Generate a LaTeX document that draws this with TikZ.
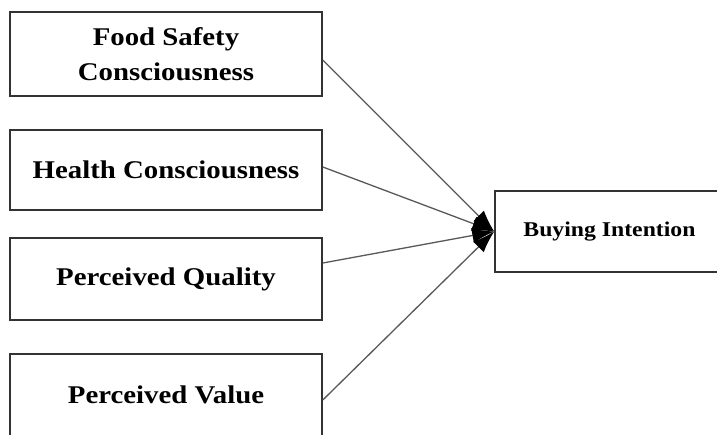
\documentclass[tikz,border=0pt]{standalone}
\usepackage{fontspec}
\newfontfamily\boxfont{Liberation Serif}[FakeStretch=1.13]
\usetikzlibrary{arrows.meta}
\begin{document}
\begin{tikzpicture}[x=1pt,y=-1pt,
  factor/.style={draw=black!80,line width=1.6pt,fill=white,rectangle,
    minimum width=312pt,inner sep=0pt,align=center,
    font=\boxfont\bfseries\fontsize{25.5}{35}\selectfont},
  target/.style={draw=black!80,line width=1.6pt,fill=white,rectangle,
    minimum width=229pt,minimum height=81pt,inner sep=0pt,
    font=\boxfont\bfseries\fontsize{21}{24}\selectfont},
  conn/.style={draw=black!65,line width=1.3pt,
    -{Latex[length=22pt,width=15pt,black]}}]
\fill[white] (0,0) rectangle (717,434);
\useasboundingbox (0,0) rectangle (717,434);
\clip (0,0) rectangle (717,434);

% predictors
\node[factor,minimum height=84pt] (fs) at (166,54) {Food Safety\\Consciousness};
\node[factor,minimum height=80pt] (hc) at (166,170) {Health Consciousness};
\node[factor,minimum height=82pt] (pq) at (166,279) {Perceived Quality};
\node[factor,minimum height=82pt] (pv) at (166,395) {Perceived Value};

% outcome
\node[target] (bi) at (609.5,231.5) {Buying Intention};

% paths
\draw[conn] ([yshift=-6pt]fs.east) -- (bi.west);
\draw[conn] ([yshift=3pt]hc.east) -- (bi.west);
\draw[conn] ([yshift=16pt]pq.east) -- (bi.west);
\draw[conn] ([yshift=-5pt]pv.east) -- (bi.west);
\end{tikzpicture}
\end{document}
